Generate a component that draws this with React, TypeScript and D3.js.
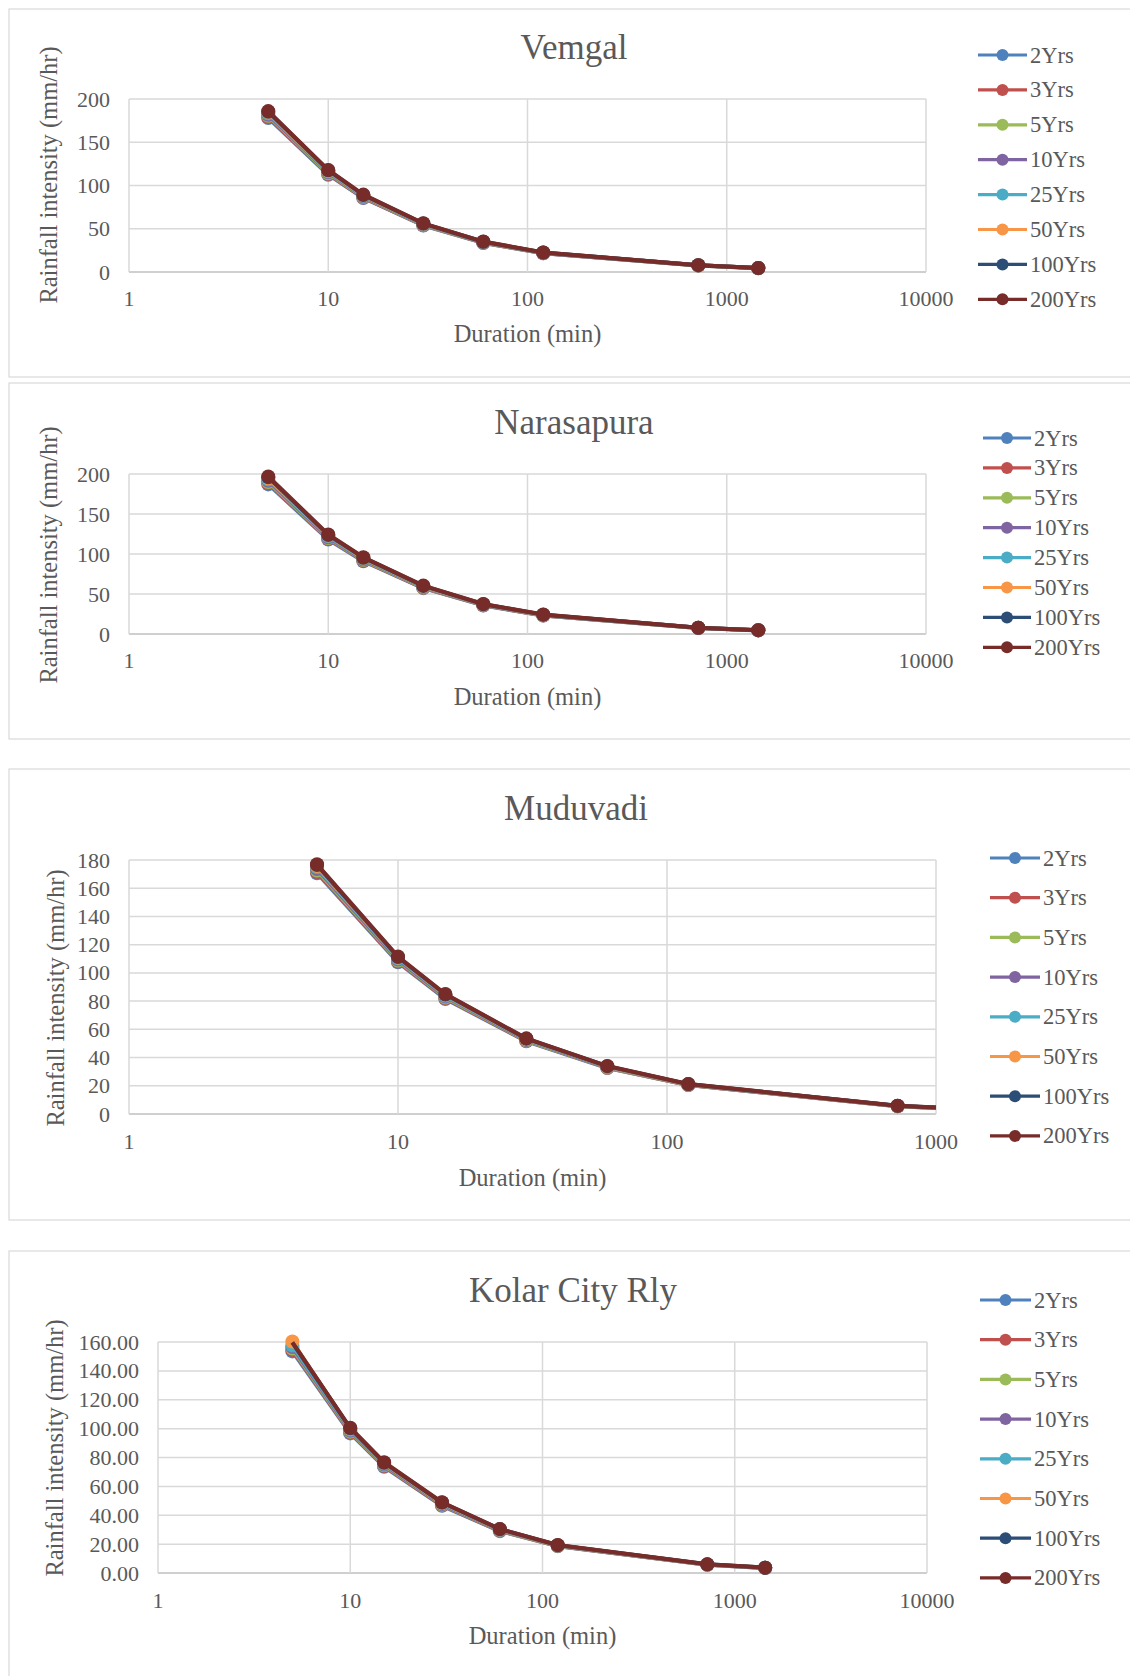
import React from 'react';
import * as d3 from 'd3';

// durations (min) shared by every station
const durations = [5, 10, 15, 30, 60, 120, 720, 1440];

const seriesNames = ['2Yrs', '3Yrs', '5Yrs', '10Yrs', '25Yrs', '50Yrs', '100Yrs', '200Yrs'];
const seriesColors = ['#4F81BD', '#C0504D', '#9BBB59', '#8064A2', '#4BACC6', '#F79646', '#2C4D75', '#772C2A'];

// rainfall intensity (mm/hr), one row per return period
const vemgal = [
  [178, 112.5, 85.5, 53.8, 33.6, 21.6, 7.5, 4.4],
  [179, 113.3, 86, 54.1, 33.8, 21.7, 7.6, 4.4],
  [180.5, 114.2, 86.7, 54.5, 34.1, 21.9, 7.6, 4.5],
  [181.8, 115.2, 87.4, 55, 34.4, 22.1, 7.7, 4.5],
  [183.2, 116.1, 88.1, 55.4, 34.6, 22.3, 7.8, 4.5],
  [184.3, 116.9, 88.6, 55.8, 34.9, 22.4, 7.8, 4.6],
  [185.2, 117.5, 89.1, 56, 35, 22.5, 7.9, 4.6],
  [186, 118, 89.5, 56.3, 35.2, 22.6, 7.9, 4.6],
];

const narasapura = [
  [187, 118, 91, 57.3, 35.7, 23, 7.5, 4.5],
  [188.5, 119, 91.7, 57.7, 36, 23.2, 7.6, 4.6],
  [190, 120, 92.4, 58.2, 36.3, 23.4, 7.6, 4.6],
  [191.5, 121, 93.2, 58.7, 36.6, 23.6, 7.7, 4.7],
  [193.2, 122.1, 94.1, 59.2, 36.9, 23.8, 7.8, 4.7],
  [194.6, 123, 94.8, 59.7, 37.1, 24, 7.8, 4.7],
  [195.8, 123.8, 95.4, 60.1, 37.3, 24.2, 7.9, 4.8],
  [197, 124.5, 96, 60.5, 37.5, 24.3, 7.9, 4.8],
];

const muduvadi = [
  [170.6, 107.5, 81.5, 51.5, 32.6, 20.5, 5.5, 3.0],
  [171.5, 108, 82, 51.8, 32.8, 20.6, 5.5, 3.0],
  [172.6, 108.7, 82.6, 52.1, 33, 20.7, 5.6, 3.1],
  [173.6, 109.4, 83.2, 52.5, 33.3, 20.9, 5.6, 3.1],
  [174.8, 110.2, 83.8, 52.9, 33.5, 21, 5.7, 3.1],
  [175.7, 110.8, 84.3, 53.2, 33.7, 21.1, 5.7, 3.2],
  [176.4, 111.2, 84.7, 53.4, 33.9, 21.2, 5.8, 3.2],
  [177, 111.6, 85, 53.6, 34, 21.3, 5.8, 3.2],
];

const kolar = [
  [153.5, 96.7, 73.6, 46.5, 29, 18.6, 5.7, 3.5],
  [154.5, 97.3, 74.1, 46.9, 29.2, 18.7, 5.7, 3.5],
  [155.5, 97.9, 74.6, 47.3, 29.5, 18.9, 5.8, 3.6],
  [156.5, 98.6, 75.1, 47.7, 29.7, 19, 5.8, 3.6],
  [157.6, 99.3, 75.7, 48.2, 30, 19.1, 5.9, 3.6],
  [160.3, 99.8, 76.1, 48.5, 30.2, 19.2, 5.9, 3.7],
  [159.6, 100.2, 76.4, 48.8, 30.4, 19.3, 6, 3.7],
  [159.8, 100.6, 76.7, 49, 30.5, 19.4, 6, 3.7],
];

// [series, point] pairs drawn without a marker
const kolarNoMarker = [[6, 0], [7, 0]];

const font = '"Liberation Serif", "Times New Roman", serif';
const textColor = '#595959';

const panels = [
  {
    name: 'Vemgal', values: vemgal, box: { y: 9, h: 368 },
    plot: { l: 129, r: 926, t: 99, b: 272 }, xMax: 10000, yMax: 200, yStep: 50, fmt: 'd',
    titleX: 574, titleY: 59, xTickY: 298, xTitleY: 333, yTitleX: 48, yTitleY: 175,
    legend: { x0: 978, x1: 1027, y0: 55, dy: 34.9 }, hidden: [] as number[][],
  },
  {
    name: 'Narasapura', values: narasapura, box: { y: 383, h: 356 },
    plot: { l: 129, r: 926, t: 474, b: 634 }, xMax: 10000, yMax: 200, yStep: 50, fmt: 'd',
    titleX: 574, titleY: 434, xTickY: 660, xTitleY: 696, yTitleX: 48, yTitleY: 555,
    legend: { x0: 983, x1: 1031, y0: 438, dy: 29.9 }, hidden: [] as number[][],
  },
  {
    name: 'Muduvadi', values: muduvadi, box: { y: 769, h: 451 },
    plot: { l: 129, r: 936, t: 860, b: 1114 }, xMax: 1000, yMax: 180, yStep: 20, fmt: 'd',
    titleX: 576, titleY: 820, xTickY: 1141, xTitleY: 1177, yTitleX: 55, yTitleY: 998,
    legend: { x0: 990, x1: 1040, y0: 858, dy: 39.7 }, hidden: [] as number[][],
  },
  {
    name: 'Kolar City Rly', values: kolar, box: { y: 1251, h: 500 },
    plot: { l: 158, r: 927, t: 1342, b: 1573 }, xMax: 10000, yMax: 160, yStep: 20, fmt: '.2f',
    titleX: 573, titleY: 1302, xTickY: 1600, xTitleY: 1635, yTitleX: 54, yTitleY: 1448,
    legend: { x0: 980, x1: 1031, y0: 1300, dy: 39.7 }, hidden: kolarNoMarker,
  },
];

type Panel = typeof panels[number];

const Chart = ({ p, idx }: { p: Panel; idx: number }) => {
  const { plot } = p;
  const x = d3.scaleLog().domain([1, p.xMax]).range([plot.l, plot.r]);
  const y = d3.scaleLinear().domain([0, p.yMax]).range([plot.b, plot.t]);
  const yTicks = d3.range(0, p.yMax + 0.001, p.yStep);
  const xTicks = d3.range(0, Math.log10(p.xMax) + 1).map(e => Math.pow(10, e));
  const fmt = d3.format(p.fmt);
  const line = d3.line<number>()
    .x((_, i) => x(durations[i]))
    .y(v => y(v));
  const clipId = `clip${idx}`;

  return (
    <g>
      <rect x={9} y={p.box.y} width={1130} height={p.box.h} fill="#fff" stroke="#d9d9d9" strokeWidth={1.2} />
      <defs>
        <clipPath id={clipId}>
          <rect x={plot.l} y={plot.t - 40} width={plot.r - plot.l} height={plot.b - plot.t + 80} />
        </clipPath>
      </defs>
      {yTicks.map(t => (
        <line key={'gy' + t} x1={plot.l} x2={plot.r} y1={y(t)} y2={y(t)}
          stroke={t === 0 ? '#bfbfbf' : '#d9d9d9'} strokeWidth={1.5} />
      ))}
      {xTicks.map(t => (
        <line key={'gx' + t} x1={x(t)} x2={x(t)} y1={plot.t} y2={plot.b} stroke="#d9d9d9" strokeWidth={1.5} />
      ))}
      {yTicks.map(t => (
        <text key={'ty' + t} x={plot.l - 19} y={y(t)} textAnchor="end" dominantBaseline="central"
          fontFamily={font} fontSize={22} fill={textColor}>{fmt(t)}</text>
      ))}
      {xTicks.map(t => (
        <text key={'tx' + t} x={x(t)} y={p.xTickY} textAnchor="middle" dominantBaseline="central"
          fontFamily={font} fontSize={22} fill={textColor}>{t}</text>
      ))}
      <text x={p.titleX} y={p.titleY} textAnchor="middle" fontFamily={font} fontSize={35} fill={textColor}>{p.name}</text>
      <text x={(plot.l + plot.r) / 2} y={p.xTitleY} textAnchor="middle" dominantBaseline="central"
        fontFamily={font} fontSize={24.5} fill={textColor}>Duration (min)</text>
      <text transform={`translate(${p.yTitleX},${p.yTitleY}) rotate(-90)`} textAnchor="middle" dominantBaseline="central"
        fontFamily={font} fontSize={24.5} fill={textColor}>Rainfall intensity (mm/hr)</text>
      <g clipPath={`url(#${clipId})`}>
        {p.values.map((vals, s) => (
          <g key={seriesNames[s]}>
            <path d={line(vals) || ''} fill="none" stroke={seriesColors[s]} strokeWidth={4} strokeLinejoin="round" />
            {vals.map((v, i) => (
              p.hidden.some(h => h[0] === s && h[1] === i) ? null :
                <circle key={i} cx={x(durations[i])} cy={y(v)} r={7} fill={seriesColors[s]} />
            ))}
          </g>
        ))}
      </g>
      {seriesNames.map((n, s) => {
        const ly = p.legend.y0 + s * p.legend.dy;
        return (
          <g key={'lg' + n}>
            <line x1={p.legend.x0} x2={p.legend.x1} y1={ly} y2={ly} stroke={seriesColors[s]} strokeWidth={3.2} />
            <circle cx={(p.legend.x0 + p.legend.x1) / 2} cy={ly} r={6} fill={seriesColors[s]} />
            <text x={p.legend.x1 + 3} y={ly} dominantBaseline="central" fontFamily={font} fontSize={22.5} fill={textColor}>{n}</text>
          </g>
        );
      })}
    </g>
  );
};

const App = () => (
  <svg width={1130} height={1676} style={{ position: 'absolute', left: 0, top: 0, background: '#fff' }}>
    {panels.map((p, i) => <Chart key={p.name} p={p} idx={i} />)}
  </svg>
);

export default App;
